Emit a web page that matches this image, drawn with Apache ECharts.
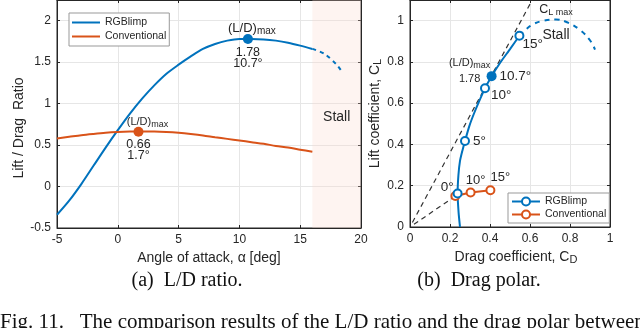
<!DOCTYPE html>
<html>
<head>
<meta charset="utf-8">
<script src="https://cdn.jsdelivr.net/npm/echarts@6/dist/echarts.min.js"></script>
<style>
  html, body { margin: 0; padding: 0; background: #fff; }
  #chart { width: 640px; height: 328px; }
</style>
</head>
<body>
<div id="chart"></div>
<script>
// (a) L/D ratio vs angle of attack
const aoaRgb = [-5, -4, -3, -2, -1, 0, 1, 2, 3, 4, 5, 6, 7, 8, 9, 10, 10.7, 11, 12, 13, 14, 15, 16];
const ldRgb = [-0.34, -0.17, 0.03, 0.25, 0.47, 0.68, 0.88, 1.06, 1.22, 1.36, 1.47, 1.57, 1.66, 1.72, 1.76, 1.78, 1.78, 1.78, 1.775, 1.76, 1.735, 1.70, 1.66];
const aoaRgbStall = [16, 17, 18, 18.5];
const ldRgbStall = [1.66, 1.60, 1.47, 1.37];
const aoaConv = [-5, -4, -3, -2, -1, 0, 1, 1.7, 2, 3, 4, 5, 6, 7, 8, 9, 10, 11, 12, 13, 14, 15, 16];
const ldConv = [0.58, 0.60, 0.62, 0.635, 0.648, 0.657, 0.663, 0.665, 0.665, 0.664, 0.658, 0.648, 0.634, 0.617, 0.595, 0.575, 0.555, 0.535, 0.515, 0.49, 0.47, 0.445, 0.42];
const ldMaxRgb = [10.7, 1.78];
const ldMaxConv = [1.7, 0.66];

// (b) drag polar
const cdRgb = [0.25, 0.243, 0.238, 0.242, 0.25, 0.262, 0.275, 0.297, 0.32, 0.346, 0.375, 0.408, 0.45, 0.50, 0.547];
const clRgb = [0, 0.07, 0.162, 0.25, 0.32, 0.37, 0.417, 0.49, 0.55, 0.61, 0.672, 0.731, 0.795, 0.862, 0.927];
const tagRgb = ['', '', '0°', '', '', '', '5°', '', '', '', '10°', '10.7°', '', '', '15°'];
const cdRgbStall = [0.547, 0.58, 0.62, 0.67, 0.73, 0.79, 0.85, 0.9, 0.925];
const clRgbStall = [0.927, 0.958, 0.985, 1.0, 1.006, 0.99, 0.955, 0.905, 0.86];
const cdConv = [0.227, 0.303, 0.402];
const clConv = [0.15, 0.167, 0.178];
const tagConv = ['', '10°', '15°'];
const tanCd1 = [0.012, 0.611];
const tanCl1 = [0.022, 1.1];
const tanCd2 = [0.02, 0.227];
const tanCl2 = [0.013, 0.15];

const BLUE = '#0072BD';
const ORANGE = '#D95319';
const INK = '#262626';
const FONT = 'Liberation Sans';

const pairs = (xs, ys) => xs.map((x, i) => [x, ys[i]]);
const subRich = (big, small) => ({
  m: { fontSize: big, fontFamily: FONT, color: INK },
  s: { fontSize: small, fontFamily: FONT, color: INK, padding: [Math.round(big * 0.45), 0, 0, 0] }
});

function valueAxis(grid, pos, min, max, step, withLabels) {
  return {
    type: 'value', gridIndex: grid, position: pos, min: min, max: max, interval: step,
    axisLine: { show: true, onZero: false, lineStyle: { color: INK, width: 1 } },
    axisTick: { show: true, inside: true, length: 3, lineStyle: { color: INK } },
    axisLabel: { show: withLabels, color: INK, fontFamily: FONT, fontSize: 12, margin: 6 },
    splitLine: { show: withLabels, lineStyle: { color: '#e6e6e6', width: 1 } }
  };
}

const chart = echarts.init(document.getElementById('chart'));

const xA = valueAxis(0, 'bottom', -5, 20, 5, true);
xA.name = 'Angle of attack, α [deg]';
xA.nameLocation = 'middle';
xA.nameGap = 18;
xA.nameTextStyle = { color: INK, fontFamily: FONT, fontSize: 14 };

const yA = valueAxis(0, 'left', -0.5, 2.25, 0.5, true);
yA.axisLabel.formatter = v => (v > 2.01 ? '' : String(v));
yA.name = 'Lift / Drag  Ratio';
yA.nameLocation = 'middle';
yA.nameGap = 22;
yA.nameTextStyle = { color: INK, fontFamily: FONT, fontSize: 14, padding: [0, 28, 0, 0] };

const xB = valueAxis(1, 'bottom', 0, 1, 0.2, true);
xB.axisLabel.formatter = v => String(+v.toFixed(1));
xB.name = '{m|Drag coefficient, C}{s|D}';
xB.nameLocation = 'middle';
xB.nameGap = 18;
xB.nameTextStyle = { rich: subRich(14, 11), padding: [0, 0, 0, 12] };

const yB = valueAxis(1, 'left', 0, 1.1, 0.2, true);
yB.axisLabel.formatter = v => (v > 1.05 ? '' : String(+v.toFixed(1)));
yB.name = '{m|Lift coefficient, C}{s|L}';
yB.nameLocation = 'middle';
yB.nameGap = 12;
yB.nameTextStyle = { rich: subRich(14, 11) };

const legendBox = {
  orient: 'vertical', itemWidth: 28, itemGap: 2,
  backgroundColor: '#fff', borderColor: '#999', borderWidth: 1, borderRadius: 0,
  textStyle: { color: INK, fontFamily: FONT, fontSize: 10.5 }
};

const option = {
  animation: false,
  backgroundColor: '#fff',
  textStyle: { fontFamily: FONT },
  grid: [
    { left: 57, top: 0, width: 304, height: 228, show: true, borderColor: INK, borderWidth: 1, backgroundColor: 'transparent' },
    { left: 410, top: 0, width: 200, height: 227, show: true, borderColor: INK, borderWidth: 1, backgroundColor: 'transparent' }
  ],
  xAxis: [xA, xB, valueAxis(0, 'top', -5, 20, 5, false), valueAxis(1, 'top', 0, 1, 0.2, false)],
  yAxis: [yA, yB, valueAxis(0, 'right', -0.5, 2.25, 0.5, false), valueAxis(1, 'right', 0, 1.1, 0.2, false)],
  legend: [
    Object.assign({}, legendBox, {
      data: [{ name: 'RGBlimp', icon: 'rect' }, { name: 'Conventional', icon: 'rect' }],
      left: 69, top: 13, itemHeight: 2, itemGap: 3, padding: [4, 3, 4, 3]
    }),
    Object.assign({}, legendBox, {
      data: ['RGBlimp ', 'Conventional '],
      formatter: n => n.trim(),
      left: 508, top: 193, itemHeight: 10, padding: [3, 3, 3, 3]
    })
  ],
  graphic: [
    { type: 'text', x: 187, y: 271, style: { text: '(a)  L/D ratio.', font: '20px "Liberation Serif"', fill: '#111', textAlign: 'center' } },
    { type: 'text', x: 479, y: 271, style: { text: '(b)  Drag polar.', font: '20px "Liberation Serif"', fill: '#111', textAlign: 'center' } },
    { type: 'text', x: 0, y: 312, style: { text: 'Fig. 11.   The comparison results of the L/D ratio and the drag polar between', font: '21px "Liberation Serif"', fill: '#111' } }
  ],
  series: [
    {
      name: 'RGBlimp', type: 'line', xAxisIndex: 0, yAxisIndex: 0,
      data: pairs(aoaRgb, ldRgb), smooth: 0.3, symbol: 'none',
      lineStyle: { color: BLUE, width: 2 }, itemStyle: { color: BLUE },
      markArea: {
        silent: true,
        itemStyle: { color: 'rgba(250, 215, 205, 0.28)' },
        label: { show: true, position: 'inside', color: INK, fontFamily: FONT, fontSize: 14, offset: [0, 3] },
        data: [[{ name: 'Stall', xAxis: 16 }, { xAxis: 20 }]]
      },
      markPoint: {
        data: [
          {
            coord: ldMaxRgb, symbol: 'circle', symbolSize: 10, itemStyle: { color: BLUE },
            label: { show: true, position: 'bottom', distance: 3, formatter: '1.78\n10.7°', color: INK, fontFamily: FONT, fontSize: 12.5, lineHeight: 11 }
          },
          {
            coord: ldMaxRgb, symbol: 'circle', symbolSize: 0,
            label: { show: true, position: [4, -19], align: 'center', formatter: '{m|(L/D)}{s|max}', rich: subRich(13, 10) }
          }
        ]
      }
    },
    {
      name: 'RGBlimp stall', type: 'line', xAxisIndex: 0, yAxisIndex: 0,
      data: pairs(aoaRgbStall, ldRgbStall), smooth: 0.3, symbol: 'none',
      lineStyle: { color: BLUE, width: 2, type: [4, 4] }
    },
    {
      name: 'Conventional', type: 'line', xAxisIndex: 0, yAxisIndex: 0,
      data: pairs(aoaConv, ldConv), smooth: 0.3, symbol: 'none',
      lineStyle: { color: ORANGE, width: 2 }, itemStyle: { color: ORANGE },
      markPoint: {
        data: [
          {
            coord: ldMaxConv, symbol: 'circle', symbolSize: 10, itemStyle: { color: ORANGE },
            label: { show: true, position: 'bottom', distance: 2, formatter: '0.66\n1.7°', color: INK, fontFamily: FONT, fontSize: 12.5, lineHeight: 11 }
          },
          {
            coord: ldMaxConv, symbol: 'circle', symbolSize: 0,
            label: { show: true, position: [9, -17], align: 'center', formatter: '{m|(L/D)}{s|max}', rich: subRich(11, 9) }
          }
        ]
      }
    },
    // drag polar
    {
      name: 'tangent1', type: 'line', xAxisIndex: 1, yAxisIndex: 1, symbol: 'none', silent: true,
      data: pairs(tanCd1, tanCl1), lineStyle: { color: '#333', width: 1.2, type: [5, 4] }
    },
    {
      name: 'tangent2', type: 'line', xAxisIndex: 1, yAxisIndex: 1, symbol: 'none', silent: true,
      data: pairs(tanCd2, tanCl2), lineStyle: { color: '#333', width: 1.2, type: [5, 4] }
    },
    {
      name: 'RGBlimp stall polar', type: 'line', xAxisIndex: 1, yAxisIndex: 1, symbol: 'none',
      data: pairs(cdRgbStall, clRgbStall), smooth: 0.4,
      lineStyle: { color: BLUE, width: 2, type: [5, 5] },
      markPoint: {
        symbol: 'circle', symbolSize: 0,
        data: [
          { coord: [0.73, 1.055], label: { show: true, formatter: '{m|C}{s|L max}', rich: subRich(12.5, 9) } },
          { coord: [0.73, 0.93], label: { show: true, formatter: 'Stall', color: INK, fontFamily: FONT, fontSize: 14 } }
        ]
      }
    },
    {
      name: 'Conventional ', type: 'line', xAxisIndex: 1, yAxisIndex: 1,
      symbol: 'emptyCircle', symbolSize: 8,
      data: cdConv.map((x, i) => ({
        value: [x, clConv[i]],
        label: { show: tagConv[i] !== '', formatter: tagConv[i], position: 'top', distance: 1, offset: [i === 2 ? 10 : 5, 0], color: INK, fontFamily: FONT, fontSize: 13 }
      })),
      lineStyle: { color: ORANGE, width: 2 }, itemStyle: { color: ORANGE, borderWidth: 1.5 }
    },
    {
      name: 'RGBlimp ', type: 'line', xAxisIndex: 1, yAxisIndex: 1,
      symbol: 'emptyCircle', symbolSize: 8, showAllSymbol: true, smooth: 0.2,
      data: cdRgb.map((x, i) => {
        const t = tagRgb[i];
        const lab = { show: t !== '', formatter: t, color: INK, fontFamily: FONT, fontSize: 13.5, position: 'right', distance: 3 };
        if (t === '0°') { lab.position = 'left'; lab.offset = [4, -6]; }
        if (t === '10°') lab.offset = [-2, 7];
        if (t === '15°') lab.offset = [-5, 9];
        return {
          value: [x, clRgb[i]],
          symbol: t === '' ? 'none' : (t === '10.7°' ? 'circle' : 'emptyCircle'),
          symbolSize: t === '10.7°' ? 10 : 8,
          label: lab
        };
      }),
      lineStyle: { color: BLUE, width: 2 }, itemStyle: { color: BLUE, borderWidth: 1.5 },
      markPoint: {
        symbol: 'circle', symbolSize: 0,
        data: [
          {
            coord: [cdRgb[11], clRgb[11]],
            label: { show: true, position: [-22, -20], align: 'center', formatter: '{m|(L/D)}{s|max}\n{n|1.78}', rich: Object.assign(subRich(11, 9), { n: { fontSize: 11, fontFamily: FONT, color: INK, padding: [3, 0, 0, 0] } }) }
          }
        ]
      }
    }
  ]
};

chart.setOption(option);
window.addEventListener('resize', chart.resize);
</script>
</body>
</html>
